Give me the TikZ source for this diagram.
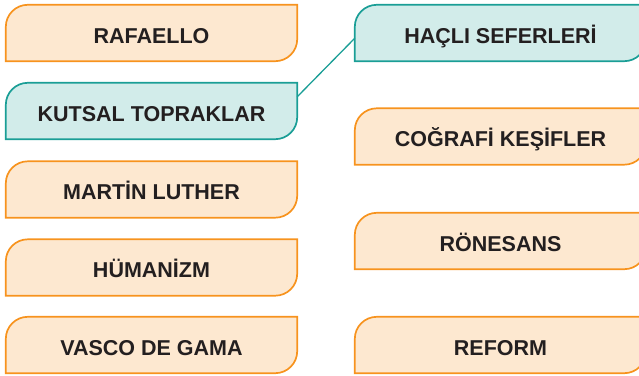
\documentclass[tikz,border=0pt]{standalone}
\usepackage{fontspec}
\setmainfont{Liberation Sans}
\usetikzlibrary{backgrounds}
\definecolor{orbord}{HTML}{F7931E}
\definecolor{orfill}{HTML}{FDE8D0}
\definecolor{tlbord}{HTML}{1A9E96}
\definecolor{tlfill}{HTML}{D2ECEA}
\definecolor{txt}{HTML}{231F20}
\tikzset{
  lbox/.style={minimum width=291pt, minimum height=56pt, inner sep=0pt, text=txt,
    text height=20.4pt, text depth=0pt,
    font=\fontsize{21.5}{25}\selectfont\bfseries},
  rbox/.style={lbox, minimum width=291pt},
  oshape/.style={draw=orbord, fill=orfill, line width=1.7pt},
  tshape/.style={draw=tlbord, fill=tlfill, line width=1.7pt},
  link/.style={draw=tlbord, line width=1.3pt}
}
\newcommand{\boxshape}[2]{%
  \path[#2] (#1.south west) -- ([yshift=-22pt]#1.north west)
    arc[start angle=180,end angle=90,radius=22pt] -- (#1.north east)
    -- ([yshift=22pt]#1.south east)
    arc[start angle=0,end angle=-90,radius=22pt] -- cycle;}
\begin{document}
\begin{tikzpicture}[x=1pt,y=1pt]
\useasboundingbox (0,0) rectangle (639,375);
\clip (0,0) rectangle (639,375);
\node[lbox] (raf) at (151.5,342) {RAFAELLO};
\node[lbox] (kut) at (151.5,264) {KUTSAL TOPRAKLAR};
\node[lbox] (mar) at (151.5,185.5) {MARTİN LUTHER};
\node[lbox] (hum) at (151.5,107.5) {HÜMANİZM};
\node[lbox] (vas) at (151.5,30) {VASCO DE GAMA};
\node[rbox] (hac) at (500.5,342) {HAÇLI SEFERLERİ};
\node[rbox] (cog) at (500.5,238.5) {COĞRAFİ KEŞİFLER};
\node[rbox] (ron) at (500.5,134) {RÖNESANS};
\node[rbox] (ref) at (500.5,30) {REFORM};
\begin{scope}[on background layer]
\boxshape{raf}{oshape}
\boxshape{kut}{tshape}
\boxshape{mar}{oshape}
\boxshape{hum}{oshape}
\boxshape{vas}{oshape}
\boxshape{hac}{tshape}
\boxshape{cog}{oshape}
\boxshape{ron}{oshape}
\boxshape{ref}{oshape}
\end{scope}
\draw[link] ([yshift=-14pt]kut.north east) -- ([yshift=23pt]hac.south west);
\end{tikzpicture}
\end{document}
